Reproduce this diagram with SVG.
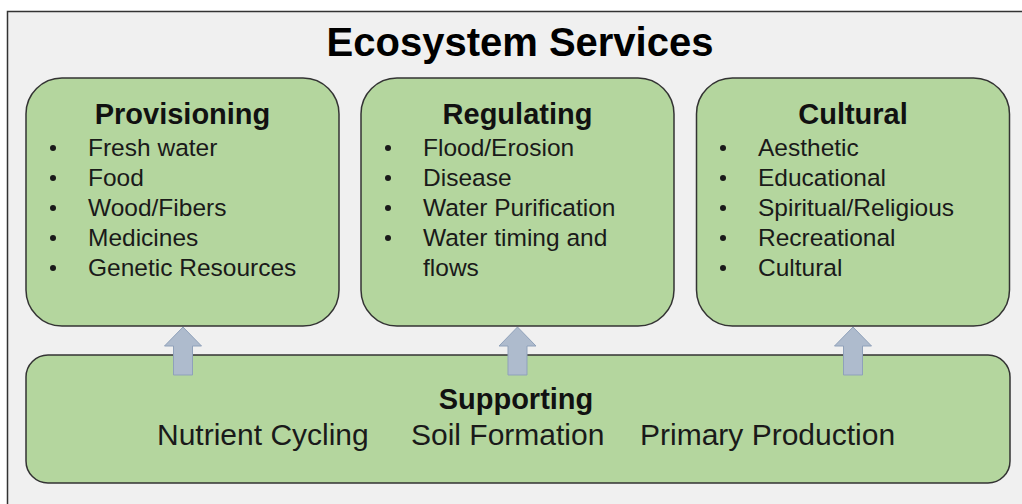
<svg xmlns="http://www.w3.org/2000/svg" width="1022" height="504" viewBox="0 0 1022 504">
  <style>
    .frame { fill: #f0f0f0; stroke: #333333; stroke-width: 1.5; }
    .box { fill: #b4d69e; stroke: #333333; stroke-width: 1.5; }
    .arrow { fill: #aebbcd; stroke: #8fa1ba; stroke-width: 1; }
    .title { font-family: "Liberation Sans", Arial, sans-serif; font-weight: bold; font-size: 40px; fill: #000; text-anchor: middle; }
    .head { font-family: "Liberation Sans", Arial, sans-serif; font-weight: bold; font-size: 29px; fill: #111; text-anchor: middle; }
    .item { font-family: "Liberation Sans", Arial, sans-serif; font-size: 24.5px; fill: #1a1a1a; }
    .bullet { fill: #1a1a1a; }
    .sub { font-family: "Liberation Sans", Arial, sans-serif; font-size: 30px; fill: #1a1a1a; }
  </style>
  <defs>
    <path id="upArrow" d="M0,0 L18.5,19 L9.5,19 L9.5,48 L-9.5,48 L-9.5,19 L-18.5,19 Z"/>
  </defs>

  <!-- outer panel -->
  <rect class="frame" x="7.5" y="11.5" width="1040" height="520"/>
  <text class="title" x="520" y="56">Ecosystem Services</text>

  <g id="provisioning">
    <rect class="box" x="26" y="78" width="313" height="248" rx="36" ry="36"/>
    <text class="head" x="182.5" y="124">Provisioning</text>
    <circle class="bullet" cx="53" cy="148" r="3"/>
    <circle class="bullet" cx="53" cy="178" r="3"/>
    <circle class="bullet" cx="53" cy="208" r="3"/>
    <circle class="bullet" cx="53" cy="238" r="3"/>
    <circle class="bullet" cx="53" cy="268" r="3"/>
    <text class="item" x="88" y="156">Fresh water</text>
    <text class="item" x="88" y="186">Food</text>
    <text class="item" x="88" y="216">Wood/Fibers</text>
    <text class="item" x="88" y="246">Medicines</text>
    <text class="item" x="88" y="276">Genetic Resources</text>
  </g>

  <g id="regulating">
    <rect class="box" x="361" y="78" width="313" height="248" rx="36" ry="36"/>
    <text class="head" x="517.5" y="124">Regulating</text>
    <circle class="bullet" cx="388" cy="148" r="3"/>
    <circle class="bullet" cx="388" cy="178" r="3"/>
    <circle class="bullet" cx="388" cy="208" r="3"/>
    <circle class="bullet" cx="388" cy="238" r="3"/>
    <text class="item" x="423" y="156">Flood/Erosion</text>
    <text class="item" x="423" y="186">Disease</text>
    <text class="item" x="423" y="216">Water Purification</text>
    <text class="item" x="423" y="246">Water timing and</text>
    <text class="item" x="423" y="276">flows</text>
  </g>

  <g id="cultural">
    <rect class="box" x="696.5" y="78" width="313" height="248" rx="36" ry="36"/>
    <text class="head" x="853" y="124">Cultural</text>
    <circle class="bullet" cx="723" cy="148" r="3"/>
    <circle class="bullet" cx="723" cy="178" r="3"/>
    <circle class="bullet" cx="723" cy="208" r="3"/>
    <circle class="bullet" cx="723" cy="238" r="3"/>
    <circle class="bullet" cx="723" cy="268" r="3"/>
    <text class="item" x="758" y="156">Aesthetic</text>
    <text class="item" x="758" y="186">Educational</text>
    <text class="item" x="758" y="216">Spiritual/Religious</text>
    <text class="item" x="758" y="246">Recreational</text>
    <text class="item" x="758" y="276">Cultural</text>
  </g>

  <g id="supporting">
    <rect class="box" x="26" y="355" width="984" height="128" rx="22" ry="22"/>
    <text class="head" x="516" y="409">Supporting</text>
    <text class="sub" x="157" y="445">Nutrient Cycling</text>
    <text class="sub" x="411" y="445">Soil Formation</text>
    <text class="sub" x="640" y="445">Primary Production</text>
  </g>

  <!-- upward arrows from Supporting to each service box, drawn over the boxes -->
  <g id="connectors">
    <use href="#upArrow" class="arrow" x="183" y="327"/>
    <use href="#upArrow" class="arrow" x="517.5" y="327"/>
    <use href="#upArrow" class="arrow" x="853" y="327"/>
  </g>
</svg>
